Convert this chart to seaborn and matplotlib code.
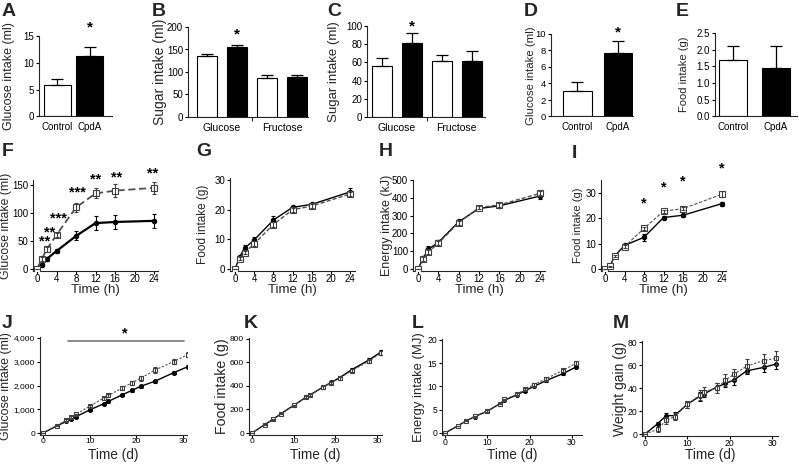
import numpy as np
import pandas as pd
import matplotlib
matplotlib.use("Agg")
import matplotlib.pyplot as plt
import seaborn as sns
from matplotlib.ticker import FuncFormatter

sns.set_style("ticks")
plt.rcParams["font.family"] = ["Liberation Sans", "DejaVu Sans"]

# ---- data ----
groups = ["Control", "CpdA"]
sugars = ["Glucose", "Fructose"]

# A, D, E: control vs CpdA ; B, C: glucose/fructose x control/CpdA
a_mean, a_err = [5.9, 11.3], [1.1, 1.6]
b_mean, b_err = [135, 155, 87, 88], [4, 5, 6, 6]
c_mean, c_err = [56, 81, 61, 61], [9, 11, 7, 12]
d_mean, d_err = [3.1, 7.7], [1.1, 1.5]
e_mean, e_err = [1.70, 1.44], [0.42, 0.68]

hours = [0, 1, 2, 4, 8, 12, 16, 24]
f_ctrl = [0, 8, 18, 32, 59, 82, 84, 86]
f_ctrl_err = [0, 2, 3, 3, 8, 12, 12, 12]
f_cpda = [0, 18, 35, 61, 110, 135, 140, 145]
f_cpda_err = [0, 4, 4, 4, 8, 9, 11, 11]
f_stars = ["**", "**", "***", "***", "**", "**", "**"]
f_star_x = [1.6, 2.6, 4.3, 8.2, 12.1, 16.4, 23.8]
f_star_y = [50, 66, 91, 137, 160, 164, 171]

g_ctrl = [0, 4.2, 7.0, 9.8, 16.5, 20.8, 21.8, 26.0]
g_ctrl_err = [0, 0.5, 1.0, 1.0, 1.3, 0.6, 0.5, 1.2]
g_cpda = [0, 3.5, 5.5, 8.5, 15.0, 20.0, 21.2, 25.3]
g_cpda_err = [0, 0.5, 0.6, 0.8, 0.8, 0.6, 0.6, 0.6]

h_ctrl = [0, 60, 110, 150, 265, 340, 355, 410]
h_ctrl_err = [0, 10, 20, 12, 18, 10, 8, 15]
h_cpda = [0, 55, 95, 145, 260, 345, 360, 425]
h_cpda_err = [0, 10, 12, 10, 12, 10, 10, 12]

i_ctrl = [0, 1.0, 5.2, 9.3, 12.5, 20.3, 21.2, 25.8]
i_ctrl_err = [0, 0.3, 0.5, 0.6, 1.3, 0.6, 0.5, 0.8]
i_cpda = [0, 1.0, 5.2, 8.8, 16.0, 22.8, 23.8, 29.5]
i_cpda_err = [0, 0.3, 0.5, 0.5, 0.6, 0.6, 0.6, 1.2]
i_star_x = [8, 12, 16, 24]
i_star_y = [25.7, 32, 34.4, 39.5]

days_j = [0, 3, 5, 6, 7, 10, 13, 14, 17, 19, 21, 24, 28, 31]
j_ctrl = [0, 300, 490, 580, 680, 970, 1230, 1330, 1610, 1790, 1970, 2180, 2540, 2790]
j_ctrl_err = [0, 20, 20, 30, 30, 40, 40, 50, 50, 60, 60, 60, 70, 70]
j_cpda = [0, 310, 550, 660, 780, 1130, 1470, 1580, 1900, 2110, 2310, 2650, 3010, 3300]
j_cpda_err = [0, 20, 30, 40, 40, 50, 60, 70, 80, 90, 100, 120, 110, 110]

days = [0, 3, 5, 7, 10, 13, 14, 17, 19, 21, 24, 28, 31]
k_ctrl = [0, 70, 115, 165, 235, 305, 325, 390, 430, 470, 540, 620, 690]
k_ctrl_err = [0, 5, 5, 6, 6, 8, 8, 10, 10, 12, 12, 14, 15]
k_cpda = [0, 70, 115, 165, 235, 305, 325, 388, 428, 465, 530, 610, 680]
k_cpda_err = [0, 5, 5, 6, 6, 8, 8, 10, 10, 12, 12, 14, 15]

l_ctrl = [0, 1.5, 2.6, 3.5, 4.7, 6.3, 7.0, 8.2, 9.1, 10.0, 11.3, 12.8, 14.2]
l_ctrl_err = [0, 0.1, 0.1, 0.1, 0.15, 0.15, 0.2, 0.2, 0.2, 0.2, 0.25, 0.3, 0.3]
l_cpda = [0, 1.5, 2.6, 3.6, 4.7, 6.3, 7.2, 8.3, 9.4, 10.4, 11.7, 13.5, 15.0]
l_cpda_err = [0, 0.1, 0.1, 0.1, 0.15, 0.15, 0.2, 0.2, 0.25, 0.25, 0.3, 0.35, 0.4]

m_ctrl = [0, 9, 16, 16, 26, 33, 35, 41, 44, 47, 55, 58, 61]
m_ctrl_err = [0, 1.5, 2.5, 3, 3, 4, 3, 3, 3, 4, 3, 4, 4]
m_cpda = [0, 4, 12, 15, 26, 34, 37, 40, 47, 52, 59, 64, 66]
m_cpda_err = [0, 2, 3, 3, 3, 4, 4, 4, 5, 5, 6, 6, 6]

W, H = 799, 465
fig = plt.figure(figsize=(W / 100, H / 100), dpi=100)


def panel(x0, y0, x1, y1, tick_size=7):
    ax = fig.add_axes([x0 / W, 1 - y1 / H, (x1 - x0) / W, (y1 - y0) / H])
    sns.despine(ax=ax)
    for s in ["left", "bottom"]:
        ax.spines[s].set_linewidth(0.8)
    ax.tick_params(length=2.5, width=0.8, pad=1, labelsize=tick_size, colors="black")
    return ax


def ylab(ax, text, size, px, x0, x1):
    ax.set_ylabel(text, fontsize=size)
    ax.yaxis.set_label_coords((px - x0) / (x1 - x0), 0.5)
    ax.yaxis.label.set_verticalalignment("center")


def xlab(ax, text, size, py, y0, y1):
    ax.set_xlabel(text, fontsize=size)
    ax.xaxis.set_label_coords(0.5, (y1 - py) / (y1 - y0))
    ax.xaxis.label.set_verticalalignment("center")


def bar_pair(ax, means, errs, width):
    sns.barplot(x=groups, y=means, hue=groups, palette={"Control": "white", "CpdA": "black"},
                edgecolor="black", linewidth=0.8, width=width, legend=False, ax=ax)
    xs = sorted(p.get_x() + p.get_width() / 2 for p in ax.patches)
    ax.errorbar(xs, means, yerr=[np.zeros(len(means)), errs], fmt="none", ecolor="black",
                elinewidth=0.9, capsize=4.5, capthick=0.9)
    ax.tick_params(axis="x", length=0, pad=4, labelsize=7)
    ax.set_xlabel("")
    return xs


def bar_quad(ax, means, errs):
    df = pd.DataFrame({"sugar": np.repeat(sugars, 2), "group": groups * 2, "ml": means})
    sns.barplot(data=df, x="sugar", y="ml", hue="group", palette={"Control": "white", "CpdA": "black"},
                edgecolor="black", linewidth=0.8, width=1.0, gap=0.33, legend=False, ax=ax)
    xs = sorted(p.get_x() + p.get_width() / 2 for p in ax.patches)
    ax.errorbar(xs, means, yerr=[np.zeros(len(means)), errs], fmt="none", ecolor="black",
                elinewidth=0.9, capsize=4, capthick=0.9)
    ax.set_xticks([0.5], minor=True)
    ax.tick_params(axis="x", which="major", length=0, pad=4.5, labelsize=7.5)
    ax.tick_params(axis="x", which="minor", length=3, width=0.8)
    ax.set_xlabel("")
    return xs


def time_panel(ax, t, ctrl, ctrl_err, cpda, cpda_err, lw_c=1.0, lw_o=1.0, dash=(3, 1.5), ms=3.2):
    sns.lineplot(x=t, y=ctrl, ax=ax, color="black", linewidth=lw_c, marker="o", markersize=ms,
                 markerfacecolor="black", markeredgecolor="black", zorder=3)
    ax.errorbar(t, ctrl, yerr=ctrl_err, fmt="none", ecolor="black", elinewidth=0.8,
                capsize=1.5, capthick=0.8, zorder=3)
    sns.lineplot(x=t, y=cpda, ax=ax, color="#505050", linewidth=lw_o, linestyle=(0, dash),
                 marker="s", markersize=ms + 0.6, markerfacecolor="white",
                 markeredgecolor="#404040", markeredgewidth=0.8, zorder=4)
    ax.errorbar(t, cpda, yerr=cpda_err, fmt="none", ecolor="#404040", elinewidth=0.8,
                capsize=1.5, capthick=0.8, zorder=4)
    ax.tick_params(axis="x", length=2, pad=0.3)


star_kw = dict(ha="center", va="center", fontweight="bold", color="black", clip_on=False)

# ---- A ----
box = (39, 36, 112, 116.5)
ax = panel(*box)
xs = bar_pair(ax, a_mean, a_err, 0.83)
ax.set_xlim(-0.57, 1.68)
ax.set_ylim(0, 15)
ax.set_yticks([0, 5, 10, 15])
ax.text(xs[1], 16.5, "*", fontsize=11, **star_kw)
ylab(ax, "Glucose intake (ml)", 9, 9, box[0], box[2])

# ---- B ----
box = (188, 27, 308, 117)
ax = panel(*box)
xs = bar_quad(ax, b_mean, b_err)
ax.set_xlim(-0.56, 1.43)
ax.set_ylim(0, 200)
ax.set_yticks([0, 50, 100, 150, 200])
ax.text(xs[1], 184, "*", fontsize=11, **star_kw)
ylab(ax, "Sugar intake (ml)", 10, 160, box[0], box[2])

# ---- C ----
box = (367, 26, 485, 117)
ax = panel(*box)
xs = bar_quad(ax, c_mean, c_err)
ax.set_xlim(-0.5, 1.47)
ax.set_ylim(0, 100)
ax.set_yticks([0, 20, 40, 60, 80, 100])
ax.text(xs[1], 99, "*", fontsize=11, **star_kw)
ylab(ax, "Sugar intake (ml)", 9.5, 334, box[0], box[2])

# ---- D ----
box = (551, 34, 633, 116.5)
ax = panel(*box, tick_size=6.8)
xs = bar_pair(ax, d_mean, d_err, 0.7)
ax.set_xlim(-0.65, 1.37)
ax.set_ylim(0, 10)
ax.set_yticks([0, 2, 4, 6, 8, 10])
ax.text(xs[1], 10.2, "*", fontsize=11, **star_kw)
ylab(ax, "Glucose intake (ml)", 8.2, 531, box[0], box[2])

# ---- E ----
box = (715, 33, 797, 116.5)
ax = panel(*box)
bar_pair(ax, e_mean, e_err, 0.65)
ax.set_xlim(-0.42, 1.49)
ax.set_ylim(0, 2.5)
ax.set_yticks([0, 0.5, 1.0, 1.5, 2.0, 2.5])
ax.yaxis.set_major_formatter(FuncFormatter(lambda v, p: f"{v:.1f}"))
ylab(ax, "Food intake (g)", 8, 684, box[0], box[2])

# ---- F ----
box = (33, 180, 158, 271)
ax = panel(*box)
time_panel(ax, hours, f_ctrl, f_ctrl_err, f_cpda, f_cpda_err, lw_c=1.6, lw_o=1.3, dash=(4, 2))
ax.set_xlim(-0.82, 24.8)
ax.set_ylim(-3.6, 159)
ax.set_xticks(range(0, 25, 4))
ax.set_yticks([0, 50, 100, 150])
for sx, sy, s in zip(f_star_x, f_star_y, f_stars):
    ax.text(sx, sy, s, fontsize=10.5, **star_kw)
ylab(ax, "Glucose intake (ml)", 8.8, 6, box[0], box[2])
xlab(ax, "Time (h)", 9.5, 290, box[1], box[3])

# ---- G ----
box = (230, 178, 355, 271)
ax = panel(*box)
time_panel(ax, hours, g_ctrl, g_ctrl_err, g_cpda, g_cpda_err)
ax.set_xlim(-1.04, 25.04)
ax.set_ylim(-0.67, 30.7)
ax.set_xticks(range(0, 25, 4))
ax.set_yticks([0, 10, 20, 30])
ylab(ax, "Food intake (g)", 8.5, 203, box[0], box[2])
xlab(ax, "Time (h)", 9.5, 290, box[1], box[3])

# ---- H ----
box = (413, 180, 545, 271)
ax = panel(*box)
time_panel(ax, hours, h_ctrl, h_ctrl_err, h_cpda, h_cpda_err)
ax.set_xlim(-0.98, 24.98)
ax.set_ylim(-11, 500)
ax.set_xticks(range(0, 25, 4))
ax.set_yticks([0, 100, 200, 300, 400, 500])
ylab(ax, "Energy intake (kJ)", 9, 387, box[0], box[2])
xlab(ax, "Time (h)", 9.5, 290, box[1], box[3])

# ---- I ----
box = (601, 180, 726, 271)
ax = panel(*box)
time_panel(ax, hours, i_ctrl, i_ctrl_err, i_cpda, i_cpda_err, lw_o=0.8)
ax.set_xlim(-0.82, 24.8)
ax.set_ylim(-0.8, 35.1)
ax.set_xticks(range(0, 25, 4))
ax.set_yticks([0, 10, 20, 30])
for sx, sy in zip(i_star_x, i_star_y):
    ax.text(sx, sy, "*", fontsize=10.5, **star_kw)
ylab(ax, "Food intake (g)", 8, 578, box[0], box[2])
xlab(ax, "Time (h)", 9.5, 290, box[1], box[3])

# ---- J ----
box = (40, 337, 187, 435)
ax = panel(*box, tick_size=6.0)
time_panel(ax, days_j, j_ctrl, j_ctrl_err, j_cpda, j_cpda_err, lw_o=0.8, dash=(2, 1.5), ms=2.8)
ax.set_xlim(-0.64, 30.86)
ax.set_ylim(-84, 4042)
ax.set_xticks([0, 10, 20, 30])
ax.set_yticks([0, 1000, 2000, 3000, 4000])
ax.yaxis.set_major_formatter(FuncFormatter(lambda v, p: f"{int(v):,}"))
ax.plot([5.4, 30.3], [3870, 3870], color="#777777", lw=1.2, clip_on=False)
ax.text(17.6, 4200, "*", fontsize=10.5, **star_kw)
ylab(ax, "Glucose intake (ml)", 9.0, 6, box[0], box[2])
xlab(ax, "Time (d)", 9.8, 455, box[1], box[3])

# ---- K ----
box = (249, 338, 382, 435)
ax = panel(*box, tick_size=6.0)
time_panel(ax, days, k_ctrl, k_ctrl_err, k_cpda, k_cpda_err, lw_o=0.8, dash=(2, 1.5), ms=2.8)
ax.set_xlim(-0.72, 31.2)
ax.set_ylim(-17, 808)
ax.set_xticks([0, 10, 20, 30])
ax.set_yticks([0, 200, 400, 600, 800])
ylab(ax, "Food intake (g)", 10.2, 222, box[0], box[2])
xlab(ax, "Time (d)", 9.8, 455, box[1], box[3])

# ---- L ----
box = (442, 339, 582, 435)
ax = panel(*box, tick_size=6.2)
time_panel(ax, days, l_ctrl, l_ctrl_err, l_cpda, l_cpda_err, lw_o=0.8, dash=(2, 1.5), ms=2.8)
ax.set_xlim(-0.71, 32.4)
ax.set_ylim(-0.43, 20.2)
ax.set_xticks([0, 10, 20, 30])
ax.set_yticks([0, 5, 10, 15, 20])
ylab(ax, "Energy intake (MJ)", 9.4, 419, box[0], box[2])
xlab(ax, "Time (d)", 9.8, 455, box[1], box[3])

# ---- M ----
box = (642, 341, 778, 436)
ax = panel(*box, tick_size=6.2)
time_panel(ax, days, m_ctrl, m_ctrl_err, m_cpda, m_cpda_err, lw_o=0.8, dash=(2, 1.5), ms=2.8)
ax.set_xlim(-0.71, 31.4)
ax.set_ylim(-1.74, 81)
ax.set_xticks([0, 10, 20, 30])
ax.set_yticks([0, 20, 40, 60, 80])
ylab(ax, "Weight gain (g)", 10, 620, box[0], box[2])
xlab(ax, "Time (d)", 9.8, 455, box[1], box[3])

# panel letters
letters = ["A", "B", "C", "D", "E", "F", "G", "H", "I", "J", "K", "L", "M"]
letter_x = [2, 152, 327, 524, 676, 2, 196, 379, 572, 2, 244, 412, 613]
letter_y = [11, 11, 11, 11, 11, 152, 152, 152, 154, 324, 324, 324, 324]
for t, lx, ly in zip(letters, letter_x, letter_y):
    fig.text(lx / W, 1 - ly / H, t, fontsize=14, fontweight="bold", ha="left", va="center")

fig.savefig("out.png", dpi=100)
